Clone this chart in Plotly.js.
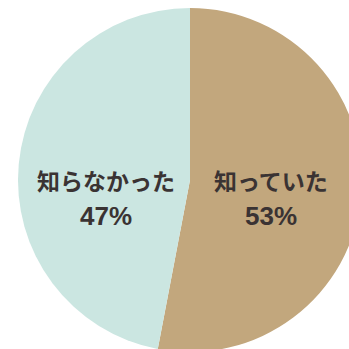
<!DOCTYPE html>
<html>
<head>
<meta charset="utf-8">
<script src="https://cdn.plot.ly/plotly-3.0.1.min.js"></script>
<style>
html,body{margin:0;padding:0;width:349px;height:349px;overflow:hidden;background:#fff;}
#chart{width:380px;height:360px;}
</style>
</head>
<body>
<div id="chart"></div>
<script>
const labels = ["知っていた", "知らなかった"];
const values = [53, 47];
const colors = ["#c2a77d", "#cbe6e1"];

const W = 380, H = 360;
const cx = 190, cy = 180, r = 172;

const trace = {
  type: "pie",
  labels: labels,
  values: values,
  sort: false,
  direction: "clockwise",
  rotation: 0,
  textinfo: "none",
  hoverinfo: "label+percent",
  marker: { colors: colors, line: { width: 0 } },
  domain: { x: [(cx - r) / W, (cx + r) / W], y: [1 - (cy + r) / H, 1 - (cy - r) / H] },
  showlegend: false
};

const labelPos = [
  { x: 271, y: 180, py: 216 },
  { x: 106, y: 180, py: 216 }
];
const font = { family: "Noto Sans CJK JP, Noto Sans, sans-serif", size: 23, color: "#3a3333", weight: 700 };
const pfont = { family: "Liberation Sans, Arial, sans-serif", size: 26, color: "#3a3333", weight: 700 };
const annotations = [];
labels.forEach((lab, i) => {
  annotations.push({ text: lab, xref: "paper", yref: "paper", x: labelPos[i].x / W, y: 1 - labelPos[i].y / H,
    xanchor: "center", yanchor: "middle", showarrow: false, font: font });
  annotations.push({ text: values[i] + "%", xref: "paper", yref: "paper", x: labelPos[i].x / W, y: 1 - labelPos[i].py / H,
    xanchor: "center", yanchor: "middle", showarrow: false, font: pfont });
});

Plotly.newPlot("chart", [trace], {
  width: W, height: H,
  margin: { l: 0, r: 0, t: 0, b: 0 },
  paper_bgcolor: "#ffffff",
  annotations: annotations
}, { displayModeBar: false, staticPlot: true });
</script>
</body>
</html>
